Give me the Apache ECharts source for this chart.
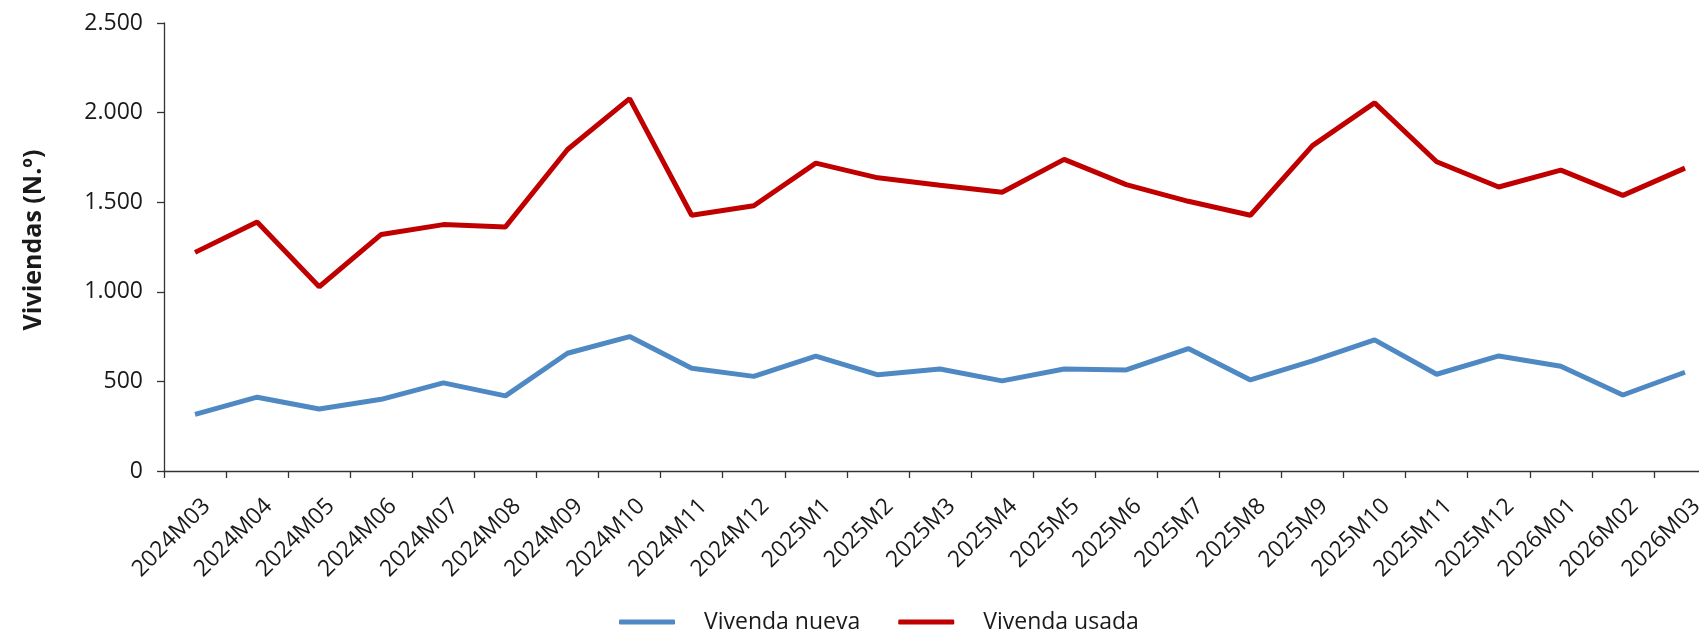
<!DOCTYPE html>
<html>
<head>
<meta charset="utf-8">
<script src="https://cdn.jsdelivr.net/npm/echarts@6/dist/echarts.min.js"></script>
<style>
html,body{margin:0;padding:0;background:#fff;overflow:hidden;}
#chart{width:1699px;height:629px;}
</style>
</head>
<body>
<div id="chart"></div>
<script>
const categories = ["2024M03","2024M04","2024M05","2024M06","2024M07","2024M08","2024M09","2024M10","2024M11","2024M12","2025M1","2025M2","2025M3","2025M4","2025M5","2025M6","2025M7","2025M8","2025M9","2025M10","2025M11","2025M12","2026M01","2026M02","2026M03"];
const viviendaNueva = [316, 412, 346, 400, 492, 419, 657, 750, 573, 528, 641, 537, 569, 503, 569, 564, 683, 508, 614, 732, 540, 642, 585, 424, 551];
const viviendaUsada = [1220, 1390, 1028, 1320, 1375, 1362, 1794, 2078, 1427, 1480, 1718, 1636, 1595, 1556, 1739, 1598, 1505, 1427, 1816, 2054, 1726, 1585, 1679, 1538, 1690];
const seriesNames = ["Vivenda nueva", "Vivenda usada"];
const yAxisTitle = "Viviendas (N.º)";

const FONT = "'Open Sans', 'Noto Sans', sans-serif";
const chart = echarts.init(document.getElementById('chart'), null, {renderer: 'canvas'});
const fmt = v => String(v).replace(/\B(?=(\d{3})+(?!\d))/g, '.');

chart.setOption({
  animation: false,
  backgroundColor: '#ffffff',
  textStyle: {fontFamily: FONT},
  grid: {left: 164, width: 1552, top: 23, bottom: 158, containLabel: false, outerBoundsMode: 'none'},
  legend: {
    data: seriesNames,
    left: 619,
    top: 610,
    padding: 0,
    itemGap: 38,
    itemWidth: 56,
    itemHeight: 5,
    icon: 'roundRect',
    textStyle: {fontFamily: FONT, fontSize: 23, lineHeight: 24, color: '#1a1a1a', padding: [0, 0, 0, 24]}
  },
  xAxis: {
    type: 'category',
    data: categories,
    boundaryGap: true,
    axisLine: {lineStyle: {color: '#333', width: 1.3}},
    axisTick: {show: true, alignWithLabel: false, length: 7, inside: false, lineStyle: {color: '#333', width: 1.3}},
    axisLabel: {
      interval: 0, rotate: 45, margin: 20,
      fontFamily: FONT, fontSize: 23, color: '#1a1a1a',
      verticalAlign: 'top', lineHeight: 33
    },
    splitLine: {show: false}
  },
  yAxis: {
    type: 'value',
    min: 0, max: 2500, interval: 500,
    name: yAxisTitle,
    nameLocation: 'middle',
    nameRotate: 90,
    nameGap: 118,
    nameTextStyle: {fontFamily: FONT, fontSize: 25, fontWeight: 'bold', color: '#1a1a1a', padding: [0, 0, 0, 14]},
    axisLine: {show: true, lineStyle: {color: '#333', width: 1.3}},
    axisTick: {show: true, length: 7, lineStyle: {color: '#333', width: 1.3}},
    axisLabel: {margin: 21, fontFamily: FONT, fontSize: 23, color: '#1a1a1a', formatter: fmt},
    splitLine: {show: false}
  },
  series: [
    {
      name: seriesNames[0], type: 'line', data: viviendaNueva,
      symbol: 'none', color: '#4F89C3',
      lineStyle: {color: '#4F89C3', width: 5}
    },
    {
      name: seriesNames[1], type: 'line', data: viviendaUsada,
      symbol: 'none', color: '#C00000',
      lineStyle: {color: '#C00000', width: 5}
    }
  ]
});
</script>
</body>
</html>
